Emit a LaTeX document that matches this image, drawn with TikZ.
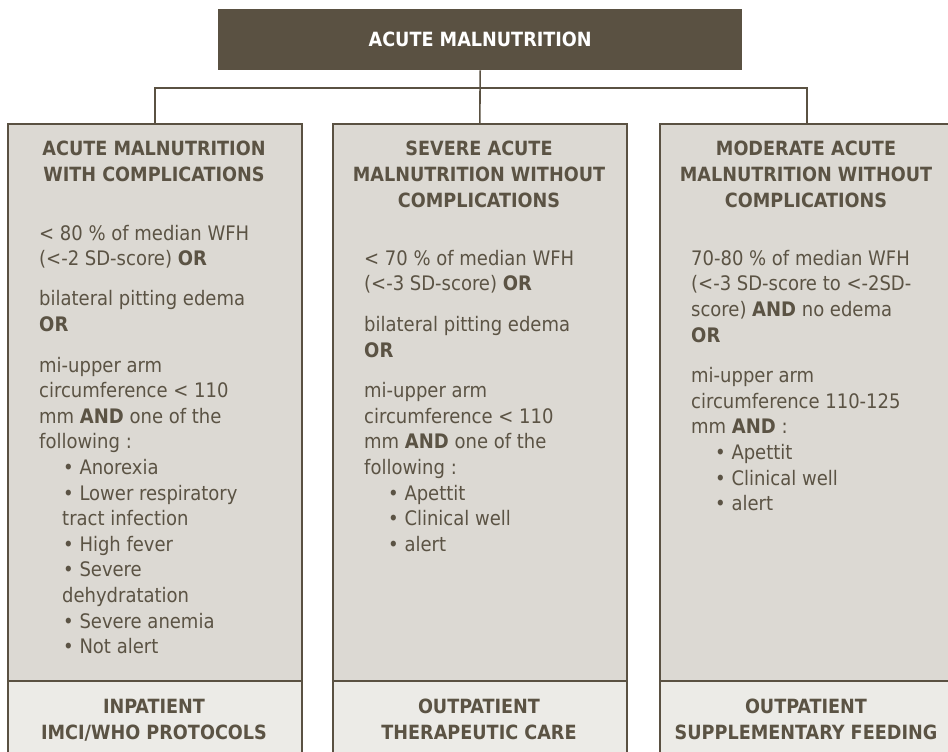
\documentclass[tikz,border=0pt]{standalone}
\usepackage{fontspec}
\setmainfont{DejaVu Sans Condensed}
\definecolor{dk}{HTML}{5A5142}
\definecolor{boxfill}{HTML}{DCD9D3}
\definecolor{footfill}{HTML}{ECEBE7}
\definecolor{txt}{HTML}{5B5344}
\newcommand{\bul}{\hspace*{24pt}•~}
\newcommand{\cont}{\hspace*{23pt}}
\begin{document}
\begin{tikzpicture}[x=1pt,y=-1pt,
  panel/.style={draw=dk, line width=1.6pt, fill=boxfill, anchor=north west, inner sep=0, minimum width=294pt},
  foot/.style={draw=dk, line width=1.6pt, fill=footfill, anchor=north west, inner sep=0, minimum width=294pt, minimum height=90pt},
  headbox/.style={fill=dk, text=white, anchor=north west, inner sep=0, minimum width=524pt, minimum height=61pt, font=\fontsize{19.6}{26}\selectfont\bfseries},
  title/.style={text=txt, font=\fontsize{19.6}{26}\selectfont\bfseries, align=center, anchor=north, inner sep=0},
  body/.style={text=txt, font=\fontsize{20}{25.6}\selectfont, align=left, anchor=north west, inner sep=0},
  link/.style={draw=dk, line width=1.6pt}]
\clip (0,0) rectangle (948,752);
\fill[white] (0,0) rectangle (948,752);
% boxes
\node[headbox] (top) at (218,9) {ACUTE MALNUTRITION};
\node[panel, minimum height=557pt] (p1) at (7,123) {};
\node[panel, minimum height=557pt] (p2) at (332,123) {};
\node[panel, minimum height=557pt] (p3) at (659,123) {};
\node[foot] (f1) at (7,680) {};
\node[foot] (f2) at (332,680) {};
\node[foot] (f3) at (659,680) {};
% connectors
\coordinate (bar) at (480,88);
\draw[link] (top.south) -- (p2.north);
\draw[link] (p1.north) |- (bar) -| (p3.north);
% titles
\node[title] (t1) at (154,136.8) {\strut ACUTE MALNUTRITION\\WITH COMPLICATIONS};
\node[title] (t2) at (479,136.8) {\strut SEVERE ACUTE\\MALNUTRITION WITHOUT\\COMPLICATIONS};
\node[title] (t3) at (806,136.8) {\strut MODERATE ACUTE\\MALNUTRITION WITHOUT\\COMPLICATIONS};
% bodies
\node[body] (b1) at (39,222.1) {\strut< 80 \% of median WFH\\
(<-2 SD-score) \textbf{OR}\\[14.5pt]
bilateral pitting edema\\
\textbf{OR}\\[15pt]
mi-upper arm\\
circumference < 110\\
mm \textbf{AND} one of the\\
following :\\
\bul Anorexia\\
\bul Lower respiratory\\
\cont tract infection\\
\bul High fever\\
\bul Severe\\
\cont dehydratation\\
\bul Severe anemia\\
\bul Not alert};
\node[body] (b2) at (364,247.1) {\strut< 70 \% of median WFH\\
(<-3 SD-score) \textbf{OR}\\[15pt]
bilateral pitting edema\\
\textbf{OR}\\[15pt]
mi-upper arm\\
circumference < 110\\
mm \textbf{AND} one of the\\
following :\\
\bul Apettit\\
\bul Clinical well\\
\bul alert};
\node[body] (b3) at (691,247.1) {\strut 70-80 \% of median WFH\\
(<-3 SD-score to <-2SD-\\
score) \textbf{AND} no edema\\
\textbf{OR}\\[15pt]
mi-upper arm\\
circumference 110-125\\
mm \textbf{AND} :\\
\bul Apettit\\
\bul Clinical well\\
\bul alert};
% footers
\node[title] (ft1) at (154,694.8) {\strut INPATIENT\\IMCI/WHO PROTOCOLS};
\node[title] (ft2) at (479,694.8) {\strut OUTPATIENT\\THERAPEUTIC CARE};
\node[title] (ft3) at (806,694.8) {\strut OUTPATIENT\\SUPPLEMENTARY FEEDING};
\end{tikzpicture}
\end{document}
